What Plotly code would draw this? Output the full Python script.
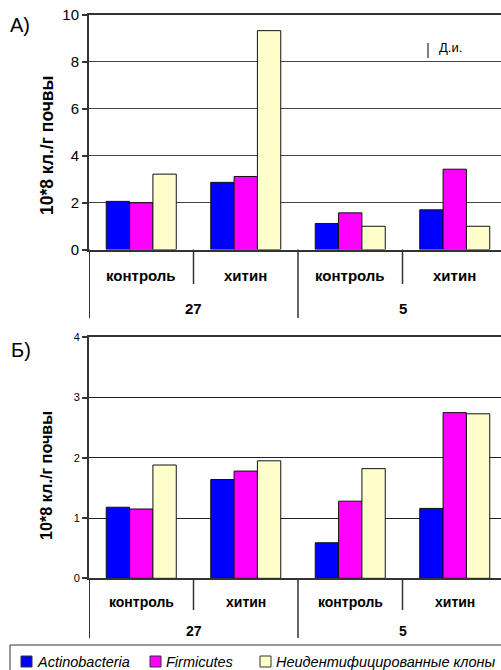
import plotly.graph_objects as go

# ---- data ----
categories = ["контроль", "хитин", "контроль", "хитин"]
groups = ["27", "5"]
series_names = ["Actinobacteria", "Firmicutes", "Неидентифицированные клоны"]
colors = ["#0000FF", "#FF00FF", "#FFFFCC"]

# panel A (top)
a_actino = [2.05, 2.86, 1.11, 1.69]
a_firm = [1.99, 3.11, 1.56, 3.42]
a_unid = [3.21, 9.32, 0.99, 0.99]
a_ticks = [0, 2, 4, 6, 8, 10]

# panel Б (bottom)
b_actino = [1.18, 1.64, 0.59, 1.16]
b_firm = [1.15, 1.78, 1.28, 2.75]
b_unid = [1.88, 1.95, 1.82, 2.73]
b_ticks = [0, 1, 2, 3, 4]

W, H = 501, 670
def py(p):
    return 1 - p / H

xpos = list(range(len(categories)))
XR = [-0.5, -0.5 + (W - 89) / 104.5]

fig = go.Figure()
panels = [
    ("x", "y", [a_actino, a_firm, a_unid]),
    ("x2", "y2", [b_actino, b_firm, b_unid]),
]
for xa, ya, vals in panels:
    for name, col, v in zip(series_names, colors, vals):
        fig.add_trace(go.Bar(
            x=xpos, y=v, name=name, xaxis=xa, yaxis=ya,
            marker=dict(color=col, line=dict(color="#111", width=1)),
            showlegend=False,
        ))

FONT = "Arial, Liberation Sans, sans-serif"
axis_col = "#333"

common_x = dict(range=XR, domain=[89 / W, 1], showticklabels=False, ticks="",
                showgrid=False, zeroline=False, showline=True, mirror=True,
                linecolor=axis_col, linewidth=2, fixedrange=True, automargin=False)

fig.update_layout(
    template="none",
    width=W, height=H,
    margin=dict(l=0, r=0, t=0, b=0, pad=0),
    paper_bgcolor="white", plot_bgcolor="white",
    barmode="group", bargap=0.33, bargroupgap=0,
    font=dict(family=FONT, color="#000"),
    xaxis=dict(**common_x, anchor="y"),
    xaxis2=dict(**common_x, anchor="y2"),
    yaxis=dict(range=[0, 10], domain=[py(249.5), py(14.7)], tickvals=a_ticks,
               ticks="outside", ticklen=5, tickcolor=axis_col, tickwidth=1.5,
               tickfont=dict(size=15), showgrid=True, gridcolor="#444", gridwidth=1.3,
               zeroline=False, showline=True, linecolor=axis_col, linewidth=2,
               anchor="x", fixedrange=True, automargin=False),
    yaxis2=dict(range=[0, 4], domain=[py(578.3), py(337.3)], tickvals=b_ticks,
                ticks="outside", ticklen=5, tickcolor=axis_col, tickwidth=1.5,
                tickfont=dict(size=11), showgrid=True, gridcolor="#222", gridwidth=1,
                zeroline=False, showline=True, linecolor=axis_col, linewidth=2,
                anchor="x2", fixedrange=True, automargin=False),
)

shapes = []
annotations = []

def hier(xref, y0, cat_end, grp_end, cat_y, grp_y, cat_size, grp_size):
    for i in range(len(categories) - 1):
        xs = i + 0.5
        end = grp_end if categories[i + 1] == categories[0] else cat_end
        shapes.append(dict(type="line", xref=xref, yref="paper", x0=xs, x1=xs,
                           y0=py(y0), y1=py(end), line=dict(color=axis_col, width=1.5)))
    shapes.append(dict(type="line", xref=xref, yref="paper", x0=-0.5, x1=-0.5,
                       y0=py(y0), y1=py(grp_end), line=dict(color=axis_col, width=2)))
    for i, c in enumerate(categories):
        annotations.append(dict(x=i, y=py(cat_y), xref=xref, yref="paper", text="<b>%s</b>" % c,
                                showarrow=False, font=dict(size=cat_size), xanchor="center", yanchor="middle"))
    for gi, g in enumerate(groups):
        annotations.append(dict(x=gi * 2 + 0.5, y=py(grp_y), xref=xref, yref="paper", text="<b>%s</b>" % g,
                                showarrow=False, font=dict(size=grp_size), xanchor="center", yanchor="middle"))

hier("x", 249.5, 284, 318, 275, 308, 15, 15)
hier("x2", 578.3, 610, 638, 602, 631, 14, 14)

annotations.append(dict(x=47 / W, y=py(145), xref="paper", yref="paper", text="<b>10*8 кл./г почвы</b>",
                        textangle=-90, showarrow=False, font=dict(size=17.5), xanchor="center", yanchor="middle"))
annotations.append(dict(x=46 / W, y=py(476), xref="paper", yref="paper", text="<b>10*8 кл./г почвы</b>",
                        textangle=-90, showarrow=False, font=dict(size=16.2), xanchor="center", yanchor="middle"))
annotations.append(dict(x=8 / W, y=py(25), xref="paper", yref="paper", text="А)", showarrow=False,
                        font=dict(size=20), xanchor="left", yanchor="middle"))
annotations.append(dict(x=9 / W, y=py(350), xref="paper", yref="paper", text="Б)", showarrow=False,
                        font=dict(size=20), xanchor="left", yanchor="middle"))
shapes.append(dict(type="line", xref="paper", yref="paper", x0=428 / W, x1=428 / W, y0=py(43), y1=py(58),
                   line=dict(color="#555", width=1.5)))
annotations.append(dict(x=437 / W, y=py(48), xref="paper", yref="paper", text="Д.и.", showarrow=False,
                        font=dict(size=13), xanchor="left", yanchor="middle"))

shapes.append(dict(type="rect", xref="paper", yref="paper", x0=10 / W, x1=530 / W, y0=py(645), y1=py(700),
                   line=dict(color=axis_col, width=1)))
leg_sq = [21, 150, 260]
for sx, name, col in zip(leg_sq, series_names, colors):
    shapes.append(dict(type="rect", xref="paper", yref="paper", x0=sx / W, x1=(sx + 11) / W,
                       y0=py(667), y1=py(656), fillcolor=col, line=dict(color="#333", width=1)))
    annotations.append(dict(x=(sx + 14) / W, y=py(661.5), xref="paper", yref="paper", text="<i>%s</i>" % name,
                            showarrow=False, font=dict(size=14.5), xanchor="left", yanchor="middle"))

fig.update_layout(shapes=shapes, annotations=annotations)
fig.write_html("out.html", config={"displayModeBar": False},
               post_script="document.body.style.margin='0';document.body.style.overflow='hidden';")
